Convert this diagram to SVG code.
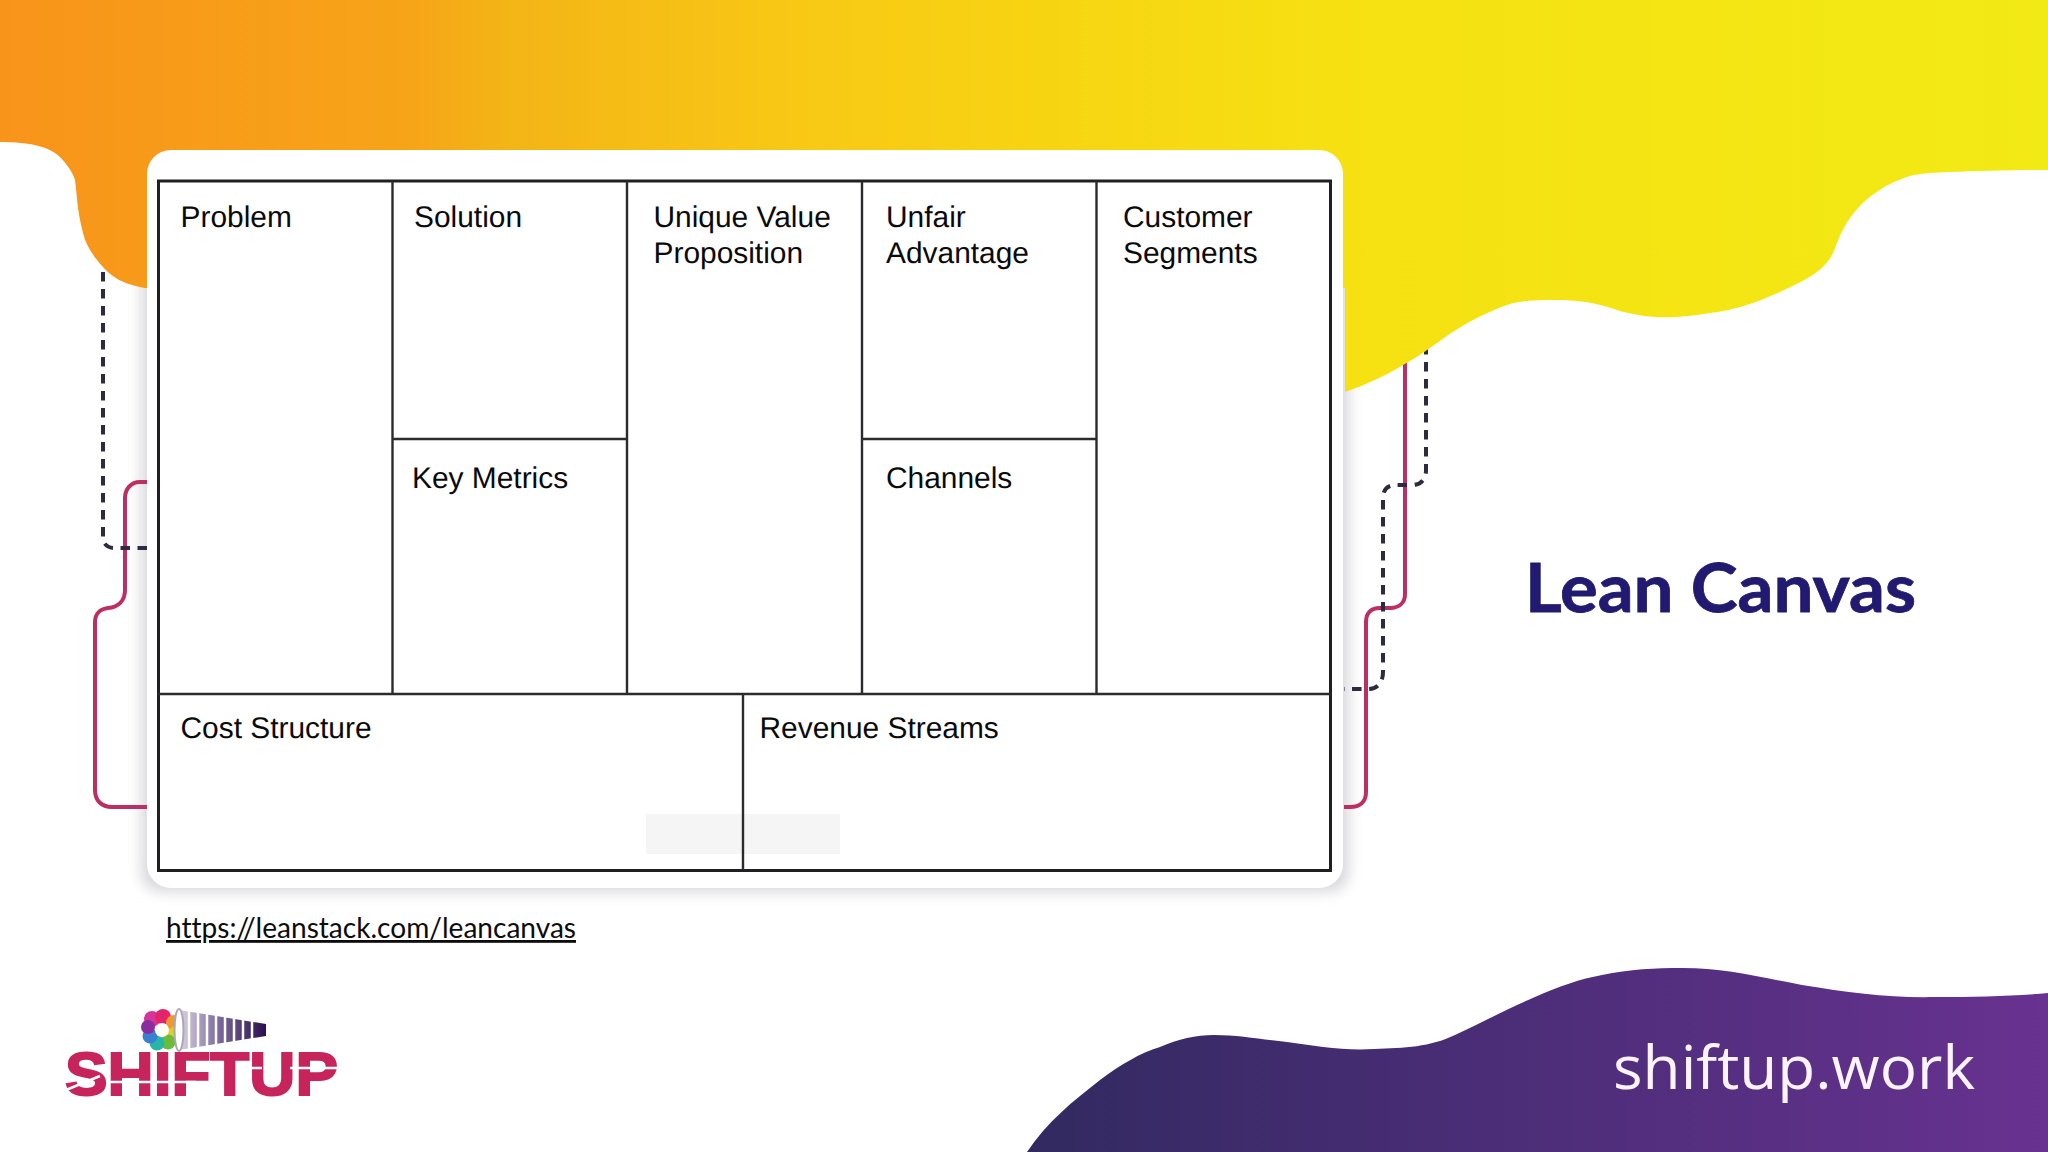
<svg xmlns="http://www.w3.org/2000/svg" width="2048" height="1152" viewBox="0 0 2048 1152">
<style>
.cell{font-family:"Liberation Sans",Arial,sans-serif;font-size:29.9px;fill:#0a0a0a;text-rendering:geometricPrecision}
.ln{stroke:#2b2b2e;stroke-width:2.4;fill:none}
.pink{fill:none;stroke:#bd2f63;stroke-width:4}
.dash{fill:none;stroke:#2c2b40;stroke-width:4;stroke-dasharray:9.5 7.5}
</style>
<defs>
<linearGradient id="gt" gradientUnits="userSpaceOnUse" x1="0" y1="0" x2="2048" y2="0">
<stop offset="0" stop-color="#f8941a"/><stop offset=".2" stop-color="#f7a418"/><stop offset=".24" stop-color="#f3b316"/><stop offset=".38" stop-color="#f8c715"/><stop offset=".5" stop-color="#f7d312"/><stop offset=".65" stop-color="#f6e012"/><stop offset="1" stop-color="#f2ea14"/>
</linearGradient>
<linearGradient id="gb" gradientUnits="userSpaceOnUse" x1="1030" y1="0" x2="2048" y2="0">
<stop offset="0" stop-color="#322a60"/><stop offset=".3" stop-color="#432c70"/><stop offset=".7" stop-color="#572f82"/><stop offset="1" stop-color="#683290"/>
</linearGradient>
<linearGradient id="gc" gradientUnits="userSpaceOnUse" x1="180" y1="0" x2="266" y2="0">
<stop offset="0" stop-color="#d8d2e2"/><stop offset=".45" stop-color="#7c6a9c"/><stop offset="1" stop-color="#2c0f50"/>
</linearGradient>
<filter id="sh" x="-5%" y="-5%" width="110%" height="110%"><feGaussianBlur stdDeviation="7"/></filter>
</defs>
<rect width="2048" height="1152" fill="#fff"/>
<rect id="card-shadow" x="141" y="240" width="1208" height="652" rx="20" fill="#d8d8dc" filter="url(#sh)"/>
<g id="connectors">
<path class="pink" d="M147 482H140C131 482 125 489 125 498V590C125 601 118 607 108 608C100 609 95 614 95 622V790C95 800 101 807 112 807H147"/>
<path class="dash" d="M103 272V538C103 544 108 548 114 548H147"/>
<path class="pink" d="M1405 360V594C1405 603 1399 608 1390 608H1380C1371 608 1366 613 1366 622V792C1366 802 1360 807 1350 807H1344"/>
<path class="dash" d="M1426 345V470C1426 479 1421 485 1412 485H1395C1388 485 1383 490 1383 497V672C1383 682 1378 689 1368 689H1344"/>
</g>
<path id="top-band" fill="url(#gt)" d="M0 0H2048V170C2010 170 1980 171 1949 172C1930 173 1918 173 1904 178C1885 185 1870 195 1859 207C1845 222 1840 235 1835 248C1828 268 1812 278 1773 295C1752 304 1735 310 1710 313C1690 316 1675 318 1656 317C1640 316 1625 313 1611 308C1592 302 1575 300 1557 300C1540 300 1522 300 1507 305C1485 313 1465 323 1444 338C1430 348 1418 357 1403 365C1385 376 1365 385 1345 392V288H145C122 284 111 276 103 267C92 255 86 245 83 233C77 210 77 195 75 180C72 170 63 160 60 157C50 147 30 142 0 142Z"/>
<rect id="card" x="147" y="150" width="1196" height="738" rx="24" fill="#fff"/>
<rect x="646" y="814" width="194" height="40" fill="#f6f5f5"/>
<g id="canvas-frame">
<rect x="158.500" y="181" width="1172" height="689.500" fill="none" stroke="#202024" stroke-width="3"/>
<path class="ln" d="M392.500 181V694M627 181V694M862 181V694M1096.500 181V694M158 694H1331M743 694V870M392 439H627M862 439H1096"/>
</g>
<g id="problem"><text class="cell" x="180.500" y="227">Problem</text></g>
<g id="solution"><text class="cell" x="414" y="227">Solution</text></g>
<g id="uvp"><text class="cell" x="653.500" y="227">Unique Value</text><text class="cell" x="653.500" y="263">Proposition</text></g>
<g id="unfair"><text class="cell" x="886" y="227">Unfair</text><text class="cell" x="886" y="263">Advantage</text></g>
<g id="segments"><text class="cell" x="1123" y="227">Customer</text><text class="cell" x="1123" y="263">Segments</text></g>
<g id="metrics"><text class="cell" x="412" y="488">Key Metrics</text></g>
<g id="channels"><text class="cell" x="886" y="488">Channels</text></g>
<g id="cost"><text class="cell" x="180.500" y="738">Cost Structure</text></g>
<g id="revenue"><text class="cell" x="759.500" y="738">Revenue Streams</text></g>
<text id="title" x="1525" y="612" font-family="Lato,Carlito,sans-serif" font-weight="700" font-size="67" fill="#221a70" stroke="#221a70" stroke-width=".8" textLength="391" lengthAdjust="spacingAndGlyphs">Lean Canvas</text>
<text id="link" x="166" y="938" font-family="Lato,Carlito,sans-serif" font-size="28" fill="#0c0c0c" text-decoration="underline" style="font-variant-ligatures:none" textLength="410" lengthAdjust="spacingAndGlyphs">https://leanstack.com/leancanvas</text>
<path id="bottom-band" fill="url(#gb)" d="M1027 1152C1047 1122 1073 1101 1100 1080C1120 1065 1140 1053 1160 1047C1178 1039 1196 1035 1214 1035C1240 1035 1265 1040 1287 1042C1315 1046 1345 1051 1374 1049C1405 1048 1430 1047 1455 1035C1485 1021 1505 1010 1535 997C1560 986 1580 979 1602 975C1630 969 1655 968 1682 968C1725 968 1760 977 1802 985C1850 993 1890 998 1936 997C1975 997 2015 996 2048 993V1152Z"/>
<text id="brand" x="1613" y="1089" font-family="'Open Sans',Inter,sans-serif" font-size="60" fill="#fbf3fb" textLength="362" lengthAdjust="spacingAndGlyphs">shiftup.work</text>
<g id="logo">
<g id="wheel">
<circle cx="152" cy="1019" r="8" fill="#d8339a"/>
<circle cx="163" cy="1017" r="8" fill="#e3246a"/>
<circle cx="174" cy="1023" r="8" fill="#ee9a2c"/>
<circle cx="175" cy="1034" r="7.500" fill="#e2cf20"/>
<circle cx="168" cy="1042" r="7.500" fill="#6dbb3a"/>
<circle cx="157" cy="1043" r="7.500" fill="#27b7a8"/>
<circle cx="150" cy="1036" r="7.500" fill="#3b7fd0"/>
<circle cx="148" cy="1027" r="7" fill="#8a2c9e"/>
<circle cx="162" cy="1030" r="7" fill="#fdfdf6"/>
</g>
<path fill="url(#gc)" d="M179 1010L266 1024V1036L179 1050Z"/>
<path stroke="#fff" stroke-width="2.500" fill="none" d="M189 1010V1050M198 1012V1049M207 1013V1047M216 1015V1045M225 1017V1043M234 1018V1042M243 1020V1040M252 1021V1039"/>
<ellipse cx="179" cy="1030" rx="4.500" ry="21" fill="#fff" stroke="#aaa6b4" stroke-width="2"/>
<text x="65" y="1095" font-family="'Liberation Sans',Arial,sans-serif" font-weight="700" font-size="62" fill="#c8245c" stroke="#c8245c" stroke-width="2" textLength="273" lengthAdjust="spacingAndGlyphs">SHIFTUP</text>
<path stroke="#fff" stroke-width="2.500" fill="none" d="M108 1082H196M66 1090L100 1076M290 1068H340M250 1068H262"/>
</g>
</svg>
